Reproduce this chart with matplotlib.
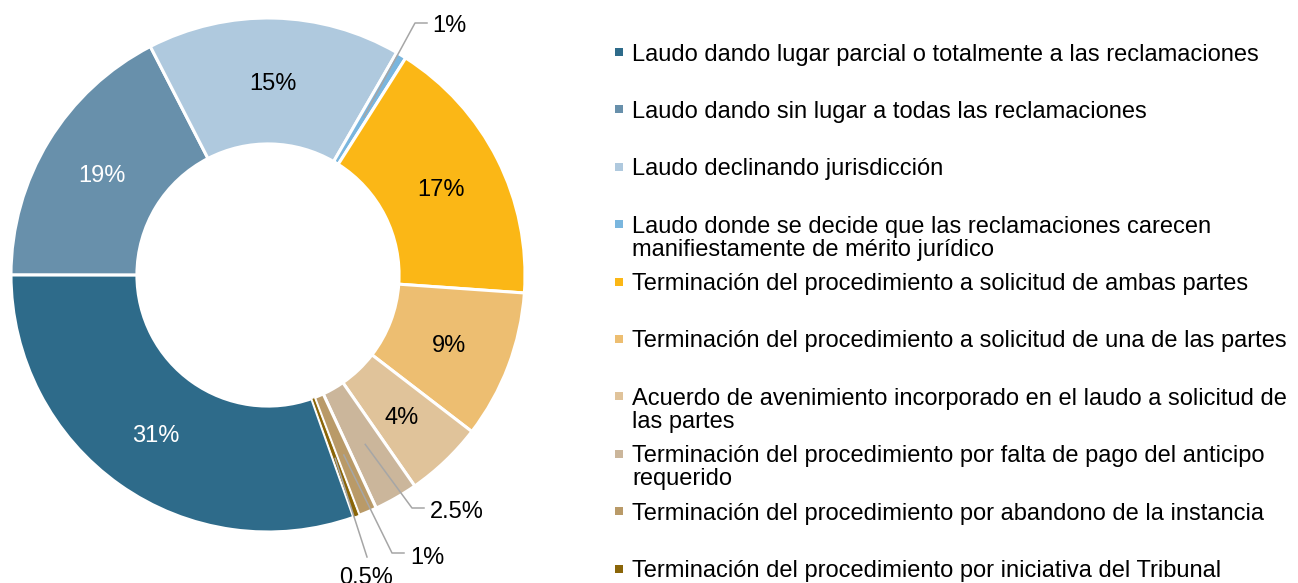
import numpy as np
import matplotlib
matplotlib.use("Agg")
import matplotlib.pyplot as plt
from matplotlib.patches import Rectangle

plt.rcParams['font.family'] = ['Liberation Sans', 'DejaVu Sans']

# --- Data ---
categories = [
    "Laudo dando lugar parcial o totalmente a las reclamaciones",
    "Laudo dando sin lugar a todas las reclamaciones",
    "Laudo declinando jurisdicción",
    "Laudo donde se decide que las reclamaciones carecen\nmanifiestamente de mérito jurídico",
    "Terminación del procedimiento a solicitud de ambas partes",
    "Terminación del procedimiento a solicitud de una de las partes",
    "Acuerdo de avenimiento incorporado en el laudo a solicitud de\nlas partes",
    "Terminación del procedimiento por falta de pago del anticipo\nrequerido",
    "Terminación del procedimiento por abandono de la instancia",
    "Terminación del procedimiento por iniciativa del Tribunal",
]
# slice sizes as drawn in the chart (% of the ring)
shares = [30.4, 17.4, 15.9, 0.65, 17.1, 9.3, 4.9, 2.75, 1.15, 0.35]
# data labels as printed
pct_labels = ["31%", "19%", "15%", "1%", "17%", "9%", "4%", "2.5%", "1%", "0.5%"]
colors = ["#2E6B8A", "#6890AB", "#AFC9DE", "#7AB6DE", "#FBB716",
          "#EDBE71", "#E0C39A", "#CBB69B", "#B99A68", "#8A6508"]

# --- Layout (pixels in the 1298x583 image) ---
W, H = 1298, 583
CX, CY, R = 268, 275, 257
FS = 17


def fx(px):
    return px / W


def fy(py):
    return 1 - py / H


def to_data(px, py):
    return (px - CX) / R, (CY - py) / R


fig = plt.figure(figsize=(W / 100, H / 100), dpi=100)
ax = fig.add_axes([fx(CX - R), fy(CY + R), 2 * R / W, 2 * R / H])

wedges, _ = ax.pie(shares, colors=colors, startangle=-70.5, counterclock=False,
                   wedgeprops=dict(width=0.49, edgecolor="white", linewidth=2.2))
# thin borders on the tiny last slice
wedges[9].set_linewidth(0.7)

ax.set_xlim(-1, 1)
ax.set_ylim(-1, 1)
ax.set_aspect("equal")
ax.axis("off")

# inside labels
inside = [0, 1, 2, 4, 5, 6]
for i in inside:
    mid = np.deg2rad((wedges[i].theta1 + wedges[i].theta2) / 2)
    r = 0.755
    ax.text(r * np.cos(mid), r * np.sin(mid), pct_labels[i], fontsize=FS,
            ha="center", va="center_baseline",
            color="white" if i in (0, 1) else "black")

# outside labels with leader lines: elbow, line end, text pos (pixels)
outside = {
    3: ((415, 23), (427, 23), (432, 23), "left"),
    7: ((412, 508), (424, 508), (430, 509), "left"),
    8: ((392, 553), (404, 553), (410, 555), "left"),
    9: ((367, 557), (367, 557), (366, 576), "center"),
}
for i, (elbow, end, tpos, ha) in outside.items():
    mid = np.deg2rad((wedges[i].theta1 + wedges[i].theta2) / 2)
    r0 = 0.72 if i == 3 else 0.76
    ex, ey = to_data(*elbow)
    nx, ny = to_data(*end)
    ax.plot([r0 * np.cos(mid), ex, nx], [r0 * np.sin(mid), ey, ny],
            color="#A6A6A6", lw=1.1, clip_on=False, zorder=3)
    tx, ty = to_data(*tpos)
    ax.text(tx, ty, pct_labels[i], fontsize=FS, ha=ha, va="center_baseline",
            clip_on=False)

# legend, drawn by hand to keep Excel's even slot spacing
y0, step, line_h = 52, 57.4, 23
for i, (label, c) in enumerate(zip(categories, colors)):
    yc = y0 + i * step
    fig.add_artist(Rectangle((fx(615), fy(yc + 4)), 8 / W, 8 / H,
                             transform=fig.transFigure, facecolor=c, edgecolor="none"))
    for k, line in enumerate(label.split("\n")):
        fig.text(fx(632), fy(yc + k * line_h), line, fontsize=FS,
                 ha="left", va="center_baseline")

fig.savefig("out.png", dpi=100)
